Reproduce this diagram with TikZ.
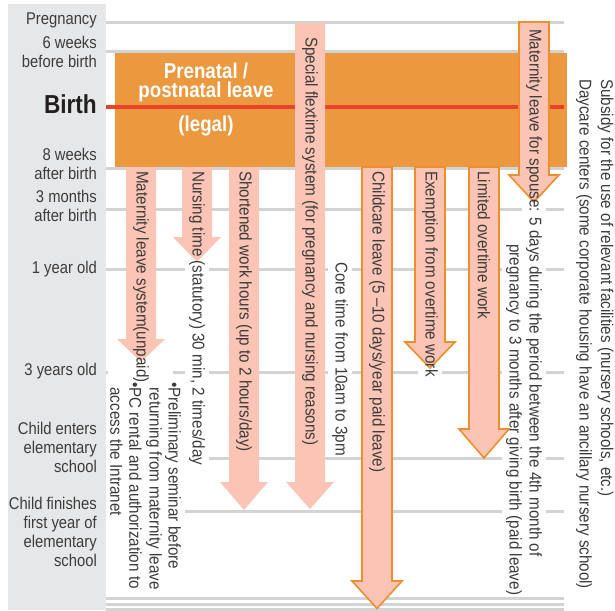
\documentclass[tikz,border=0pt]{standalone}
\usepackage{fontspec}
\setmainfont{Liberation Sans}[FakeStretch=0.87]
\newfontfamily\rotfont{Liberation Sans}[FakeStretch=0.895]
\pgfdeclarelayer{bg}
\pgfdeclarelayer{knock}
\pgfdeclarelayer{arr}
\pgfsetlayers{bg,knock,arr,main}
\definecolor{panel}{HTML}{E6E7E8}
\definecolor{gridc}{HTML}{D1D3D4}
\definecolor{boxor}{HTML}{EC983F}
\definecolor{redl}{HTML}{E8432A}
\definecolor{pinkf}{HTML}{FBC4B4}
\definecolor{bord}{HTML}{EF8E2C}
\definecolor{txt}{HTML}{3C3C3C}
\definecolor{dark}{HTML}{231F20}
\newcommand\vArrow[6]{%
  \path[#1] ({#2-15},#3) -- ({#2+15},#3) -- ({#2+15},#4) -- ({#2+#6},#4)
    -- (#2,#5) -- ({#2-#6},#4) -- ({#2-15},#4) -- cycle;}
\newcommand\knockout[1]{\fill[white] ([xshift=-3pt]#1.south west) rectangle ([xshift=3pt]#1.north east);}
\begin{document}
\begin{tikzpicture}[x=1pt,y=-1pt,
  lab/.style={anchor=east, align=right, font=\fontsize{17}{19}\selectfont, text=txt, inner sep=0pt},
  atxt/.style={rotate=-90, anchor=west, font=\rotfont\fontsize{17}{19}\selectfont, text=txt, inner sep=1pt},
  ttl/.style={font=\bfseries\fontsize{21.5}{19}\selectfont, text=white, inner sep=0pt},
  plainar/.style={fill=pinkf},
  bordar/.style={fill=pinkf, draw=bord, line width=1.6pt, line join=miter},
  gline/.style={gridc, line width=3pt}]
\useasboundingbox (0,0) rectangle (615,610);

\begin{pgfonlayer}{bg}
  \fill[panel] (8,4) rectangle (106,610);
  \foreach \yy in {23,52,168,209,269,372,458,511,598,604,609}
    \draw[gline] (106,\yy) -- (564,\yy);
\end{pgfonlayer}

% left labels
\node[lab] (lpreg) at (97,20) {Pregnancy};
\node[lab] (l6w) at (97,52) {6 weeks\\before birth};
\node[lab, font=\bfseries\fontsize{26}{28}\selectfont, text=dark] (lbirth) at (97,104) {Birth};
\node[lab] (l8w) at (97,164) {8 weeks\\after birth};
\node[lab] (l3m) at (97,206) {3 months\\after birth};
\node[lab] (l1y) at (97,269) {1 year old};
\node[lab] (l3y) at (97,371) {3 years old};
\node[lab] (lenter) at (97,447) {Child enters\\elementary\\school};
\node[lab] (lfin) at (97,532) {Child finishes\\first year of\\elementary\\school};

% texts
\node[atxt] (t1) at (141,170) {Maternity leave system(unpaid)};
\node[atxt, align=left] (t1b) at (126,381) {•PC rental and authorization to\\\phantom{•}access the Intranet};
\node[atxt] (t2) at (197,170) {Nursing time (statutory) 30 min, 2 times/day};
\node[atxt, align=left] (t2b) at (163.5,381) {•Preliminary seminar before\\\phantom{•}returning from maternity leave};
\node[atxt] (t3) at (244,170) {Shortened work hours (up to 2 hours/day)};
\node[atxt] (t4) at (310,36) {Special flextime system (for pregnancy and nursing reasons)};
\node[atxt] (t4b) at (340,261) {Core time from 10am to 3pm};
\node[atxt] (t5) at (377,170) {Childcare leave (5 –10 days/year paid leave)};
\node[atxt] (t6) at (430,170) {Exemption from overtime work};
\node[atxt] (t7) at (484,170) {Limited overtime work};
\node[atxt] (t8) at (534,28) {Maternity leave for spouse: 5 days during the period between the 4th month of};
\node[atxt] (t8b) at (514,243) {pregnancy to 3 months after giving birth (paid leave)};
\node[atxt, inner sep=0pt] (t9) at (605.5,79) {Subsidy for the use of relevant facilities (nursery schools, etc.)};
\node[atxt, inner sep=0pt] (t10) at (584,79) {Daycare centers (some corporate housing have an ancillary nursery school)};

\begin{pgfonlayer}{knock}
  \knockout{t1}\knockout{t1b}\knockout{t2}\knockout{t2b}\knockout{t4b}
  \knockout{t6}\knockout{t8}\knockout{t8b}
  \fill[white] (108,369) rectangle (173,381);
\end{pgfonlayer}

\begin{pgfonlayer}{arr}
  \fill[boxor] (115,53) rectangle (567,167);
  \draw[redl, line width=4pt] (106,107) -- (564,107);
  \vArrow{plainar}{141}{167}{339}{362}{24}
  \vArrow{plainar}{197}{167}{237}{262}{24}
  \vArrow{plainar}{244}{167}{482}{510}{24}
  \vArrow{plainar}{310}{23}{482}{509}{24}
  \vArrow{bordar}{377}{167}{581}{608.5}{25}
  \vArrow{bordar}{430}{167}{342}{368}{25}
  \vArrow{bordar}{484}{167}{429}{458}{25}
  \vArrow{bordar}{534}{22}{175}{202}{25}
\end{pgfonlayer}

\node[ttl, align=center] (title) at (206,82) {Prenatal /\\postnatal leave};
\node[ttl, anchor=base] (legal) at (206,131) {(legal)};
\end{tikzpicture}
\end{document}
